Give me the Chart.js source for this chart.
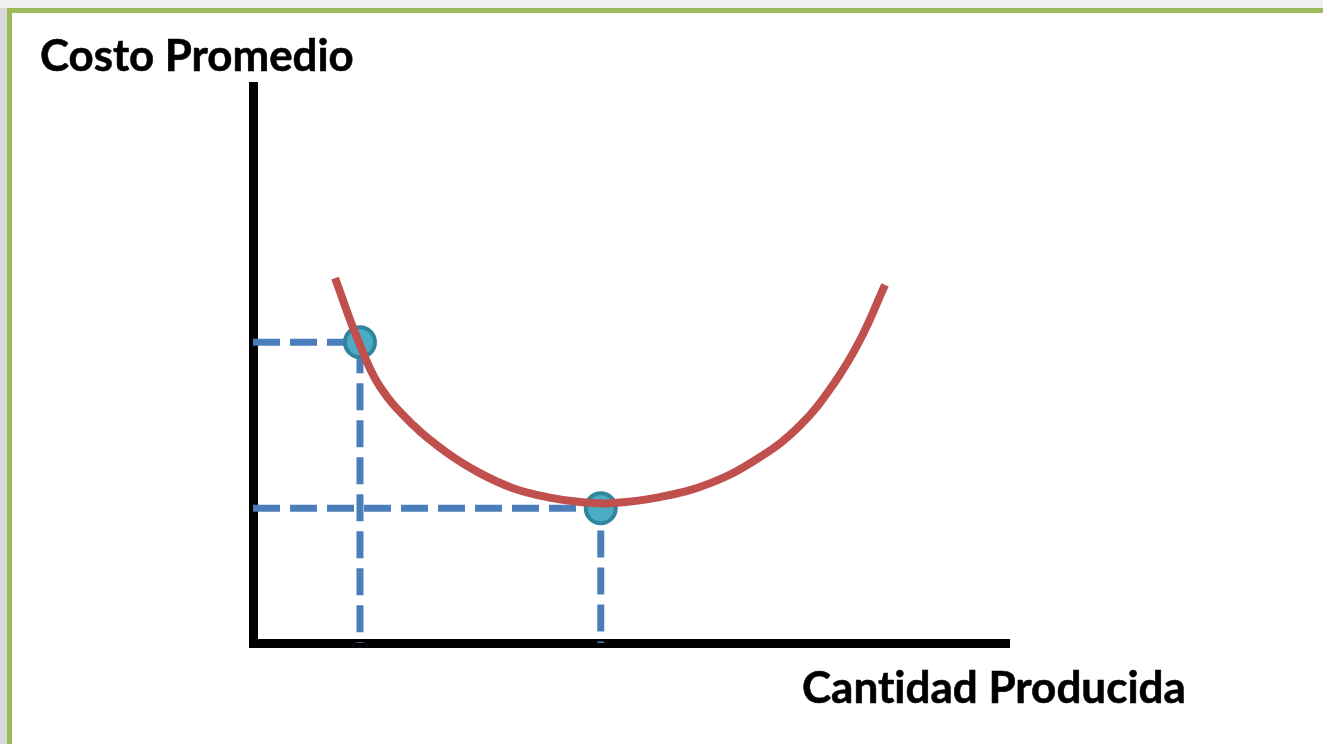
<!DOCTYPE html>
<html>
<head>
<meta charset="utf-8">
<script src="https://cdn.jsdelivr.net/npm/chart.js@4/dist/chart.umd.min.js"></script>
<style>
  html, body { margin: 0; padding: 0; }
  body { width: 1323px; height: 744px; background: #f0f0f0; position: relative; overflow: hidden; }
  #leftStrip { position: absolute; left: 0; top: 8px; width: 7px; height: 736px; background: #d9d9d9; }
  #frame { position: absolute; left: 7px; top: 8px; width: 1320px; height: 740px;
           border-top: 5px solid #9bbb59; border-left: 5px solid #9bbb59; background: #fff; }
  #chart { position: absolute; left: 0; top: 0; }
  .label { position: absolute; font-family: Lato, "Open Sans", sans-serif; font-weight: bold;
           color: #000; white-space: nowrap; line-height: 1; font-variant-ligatures: none;
           -webkit-text-stroke: 0.6px #000; }
  #yTitle { left: 40px; top: 33px; }
  #xTitle { left: 802px; top: 664px; }
</style>
</head>
<body>
<div id="leftStrip"></div>
<div id="frame"></div>
<canvas id="chart" width="1323" height="744"></canvas>
<div class="label" id="yTitle">Costo Promedio</div>
<div class="label" id="xTitle">Cantidad Producida</div>
<script>
// Average cost curve (quantity vs cost)
const curveQty  = [10.85, 14.0, 16.8, 21.2, 25.7, 30.0, 34.4, 38.9, 43.3, 47.2, 53.8, 60.5, 67.1, 72.4, 76.7, 80.3, 83.6];
const curveCost = [65.5, 54.0, 46.0, 39.1, 34.1, 30.5, 27.8, 26.2, 25.3, 25.1, 26.2, 28.7, 33.4, 39.1, 46.3, 54.4, 64.3];

// The two marked points
const markQty  = [14.15, 46.0];
const markCost = [54.0, 24.2];

const axisMin = 0;
const axisMax = 100;

const curveData = curveQty.map((q, i) => ({ x: curveQty[i], y: curveCost[i] }));
const markData = markQty.map((q, i) => ({ x: q, y: markCost[i] }));

// dashed guides: from the cost axis to the point, then down to the quantity axis
const guideSets = markQty.map((q, i) => ({
    data: [{ x: axisMin, y: markCost[i] }, { x: q, y: markCost[i] }, { x: q, y: axisMin }],
    showLine: true,
    borderColor: '#4a7ebb',
    borderWidth: 7,
    borderDash: [27, 10],
    borderCapStyle: 'butt',
    borderJoinStyle: 'miter',
    pointRadius: 0,
    tension: 0,
    clip: false,
    order: 3
}));

// fit the bold labels to the widths they have in the picture
function fitLabel(id, targetWidth) {
    const el = document.getElementById(id);
    const ctx = document.createElement('canvas').getContext('2d');
    ctx.font = 'bold 40px Lato';
    const w = ctx.measureText(el.textContent).width;
    el.style.fontSize = (40 * targetWidth / w).toFixed(1) + 'px';
}
fitLabel('yTitle', 314);
fitLabel('xTitle', 385);

const ctx = document.getElementById('chart').getContext('2d');
new Chart(ctx, {
    type: 'scatter',
    data: {
        datasets: [
            {
                data: curveData,
                showLine: true,
                borderColor: '#c0504d',
                borderWidth: 8,
                borderCapStyle: 'butt',
                pointRadius: 0,
                tension: 0.4,
                clip: false,
                order: 1
            },
            {
                data: markData,
                showLine: false,
                pointRadius: 15,
                pointBackgroundColor: '#4bacc6',
                pointBorderColor: '#31859c',
                pointBorderWidth: 4,
                clip: false,
                order: 2
            },
            ...guideSets
        ]
    },
    options: {
        responsive: false,
        animation: false,
        layout: { padding: { left: 253, top: 86, right: 314, bottom: 101 } },
        plugins: {
            legend: { display: false },
            tooltip: { enabled: false }
        },
        scales: {
            x: {
                type: 'linear',
                min: axisMin,
                max: axisMax,
                grid: { display: false, drawTicks: false },
                ticks: { display: false },
                border: { display: true, color: '#000', width: 9 }
            },
            y: {
                type: 'linear',
                min: axisMin,
                max: axisMax,
                grid: { display: false, drawTicks: false },
                ticks: { display: false },
                border: { display: true, color: '#000', width: 9 }
            }
        }
    }
});
</script>
</body>
</html>
